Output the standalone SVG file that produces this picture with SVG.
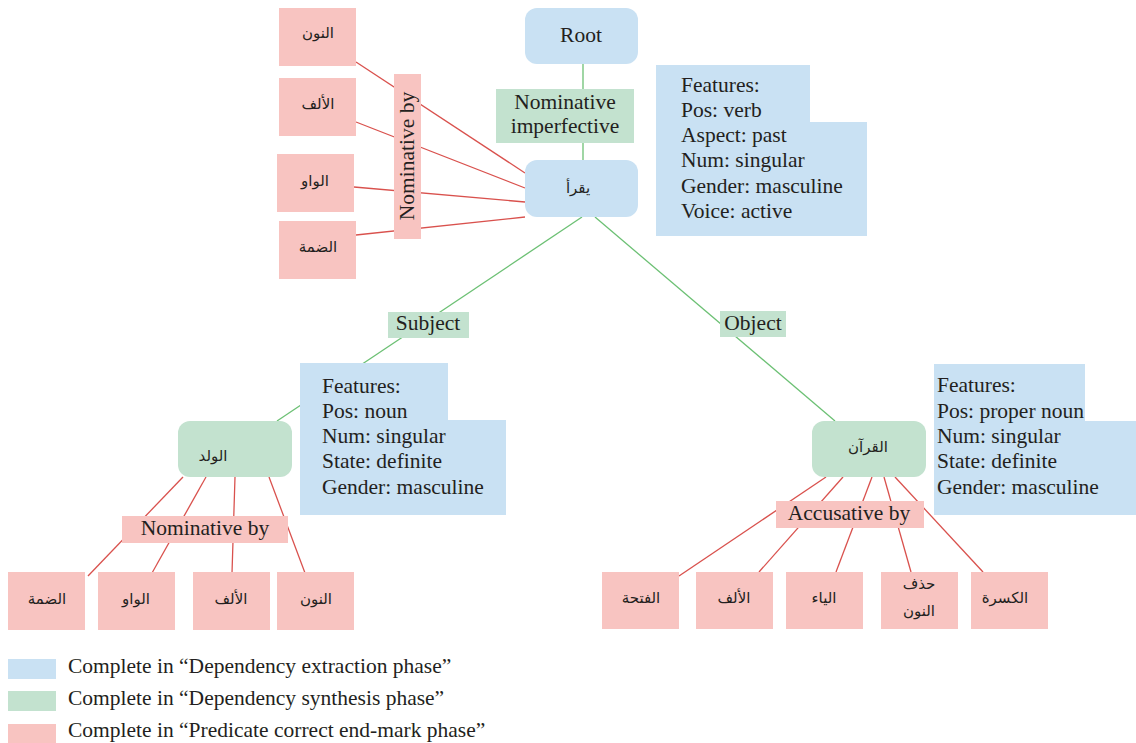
<svg xmlns="http://www.w3.org/2000/svg" width="1136" height="743" viewBox="0 0 1136 743">
<style>
.t{font-family:"Liberation Serif","Times New Roman",serif;font-size:21.5px;fill:#231f20}
.a{font-family:"DejaVu Sans","Noto Sans",sans-serif;font-size:15px;fill:#231f20;text-anchor:middle}
.m{text-anchor:middle}
.blue{fill:#c9e1f3}
.green{fill:#c3e2cf}
.pink{fill:#f8c4c1}
.lg{stroke:#6cc074;stroke-width:1.3;fill:none}
.lr{stroke:#d9514d;stroke-width:1.3;fill:none}
</style>
<rect width="1136" height="743" fill="#ffffff"/>
<g id="connectors">
<line class="lg" x1="583" y1="64" x2="583" y2="160"/>
<line class="lg" x1="582" y1="217" x2="277" y2="421"/>
<line class="lg" x1="595" y1="217" x2="835" y2="421"/>
<line class="lr" x1="356" y1="62" x2="525" y2="173"/>
<line class="lr" x1="356" y1="122" x2="525" y2="188"/>
<line class="lr" x1="354" y1="187" x2="525" y2="202"/>
<line class="lr" x1="356" y1="235" x2="525" y2="217"/>
<line class="lr" x1="183" y1="477" x2="88" y2="576"/>
<line class="lr" x1="206" y1="477" x2="152" y2="573"/>
<line class="lr" x1="235" y1="477" x2="232" y2="573"/>
<line class="lr" x1="269" y1="477" x2="305" y2="573"/>
<line class="lr" x1="826" y1="477" x2="679" y2="576"/>
<line class="lr" x1="843" y1="477" x2="759" y2="572"/>
<line class="lr" x1="872" y1="477" x2="836" y2="572"/>
<line class="lr" x1="884" y1="477" x2="911" y2="572"/>
<line class="lr" x1="895" y1="477" x2="983" y2="572"/>
</g>
<g id="root"><rect class="blue" x="525" y="8" width="113" height="56" rx="12"/><text class="t m" x="581" y="42">Root</text></g>
<g id="label-nominative-imperfective"><rect class="green" x="496" y="89" width="138" height="54"/><text class="t m" x="565" y="109">Nominative</text><text class="t m" x="565" y="133">imperfective</text></g>
<g id="verb"><rect class="blue" x="525" y="160" width="113" height="57" rx="12"/><text class="a" x="578" y="193">يقرأ</text></g>
<g id="verb-features"><path class="blue" d="M656 65H810V122H867V236H656Z"/>
<text class="t" x="681" y="92">Features:</text><text class="t" x="681" y="117">Pos: verb</text><text class="t" x="681" y="142">Aspect: past</text><text class="t" x="681" y="167">Num: singular</text><text class="t" x="681" y="193">Gender: masculine</text><text class="t" x="681" y="218">Voice: active</text></g>
<g id="top-noon"><rect class="pink" x="279" y="8" width="77" height="58"/><text class="a" x="318" y="38">النون</text></g>
<g id="top-alif"><rect class="pink" x="279" y="78" width="77" height="58"/><text class="a" x="318" y="109">الألف</text></g>
<g id="top-waw"><rect class="pink" x="277" y="154" width="77" height="58"/><text class="a" x="315" y="186">الواو</text></g>
<g id="top-damma"><rect class="pink" x="279" y="221" width="77" height="58"/><text class="a" x="318" y="252">الضمة</text></g>
<g id="label-nominative-by-top"><rect class="pink" x="394" y="74" width="27" height="165"/><text class="t m" transform="translate(414 156) rotate(-90)">Nominative by</text></g>
<g id="label-subject"><rect class="green" x="388" y="312" width="81" height="26"/><text class="t m" x="428" y="330">Subject</text></g>
<g id="label-object"><rect class="green" x="720" y="311" width="66" height="26"/><text class="t m" x="753" y="330">Object</text></g>
<g id="subject-features"><path class="blue" d="M300 363H448V420H506V515H300Z"/>
<text class="t" x="322" y="393">Features:</text><text class="t" x="322" y="418">Pos: noun</text><text class="t" x="322" y="443">Num: singular</text><text class="t" x="322" y="468">State: definite</text><text class="t" x="322" y="494">Gender: masculine</text></g>
<g id="subject"><rect class="green" x="178" y="421" width="114" height="56" rx="12"/><text class="a" x="213" y="461">الولد</text></g>
<g id="label-nominative-by-bottom"><rect class="pink" x="122" y="516" width="166" height="27"/><text class="t m" x="205" y="535">Nominative by</text></g>
<g id="bl-damma"><rect class="pink" x="8" y="572" width="77" height="58"/><text class="a" x="47" y="604">الضمة</text></g>
<g id="bl-waw"><rect class="pink" x="98" y="572" width="77" height="58"/><text class="a" x="136" y="604">الواو</text></g>
<g id="bl-alif"><rect class="pink" x="193" y="572" width="77" height="58"/><text class="a" x="231" y="604">الألف</text></g>
<g id="bl-noon"><rect class="pink" x="277" y="572" width="77" height="58"/><text class="a" x="316" y="604">النون</text></g>
<g id="object-features"><path class="blue" d="M934 364H1085V421H1136V515H934Z"/>
<text class="t" x="937" y="392">Features:</text><text class="t" x="937" y="418">Pos: proper noun</text><text class="t" x="937" y="443">Num: singular</text><text class="t" x="937" y="468">State: definite</text><text class="t" x="937" y="494">Gender: masculine</text></g>
<g id="object"><rect class="green" x="812" y="421" width="114" height="56" rx="12"/><text class="a" x="868" y="452">القرآن</text></g>
<g id="label-accusative-by"><rect class="pink" x="776" y="501" width="148" height="27"/><text class="t m" x="849" y="520">Accusative by</text></g>
<g id="br-fatha"><rect class="pink" x="602" y="572" width="77" height="57"/><text class="a" x="641" y="603">الفتحة</text></g>
<g id="br-alif"><rect class="pink" x="696" y="572" width="77" height="57"/><text class="a" x="734" y="603">الألف</text></g>
<g id="br-ya"><rect class="pink" x="786" y="572" width="77" height="57"/><text class="a" x="824" y="603">الياء</text></g>
<g id="br-hadhf"><rect class="pink" x="881" y="572" width="77" height="57"/><text class="a" x="919" y="589">حذف</text><text class="a" x="919" y="616">النون</text></g>
<g id="br-kasra"><rect class="pink" x="971" y="572" width="77" height="57"/><text class="a" x="1005" y="603">الكسرة</text></g>
<g id="legend">
<rect class="blue" x="8" y="659" width="48" height="20"/><text class="t" x="68" y="673">Complete in “Dependency extraction phase”</text>
<rect class="green" x="8" y="691" width="48" height="20"/><text class="t" x="68" y="705">Complete in “Dependency synthesis phase”</text>
<rect class="pink" x="8" y="724" width="48" height="19"/><text class="t" x="68" y="737">Complete in “Predicate correct end-mark phase”</text>
</g>
</svg>
